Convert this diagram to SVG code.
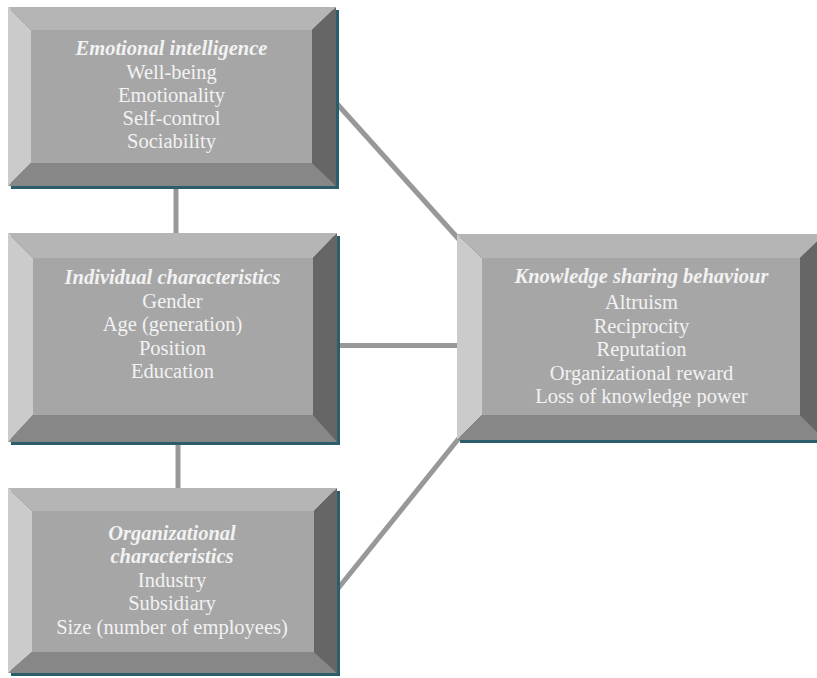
<svg xmlns="http://www.w3.org/2000/svg" width="817" height="678" viewBox="0 0 817 678">
<defs>
<style>
.sh{fill:#2b5d6a}
.tp{fill:#b5b5b5}
.lf{fill:#cbcbcb}
.rt{fill:#666666}
.bt{fill:#878787}
.fc{fill:#a6a6a6}
.con{stroke:#98989b;stroke-width:5;fill:none}
text{font-family:"Liberation Serif","Times New Roman",serif;font-size:20.5px;fill:#f2f2f2;text-anchor:middle}
.ttl{font-weight:bold;font-style:italic}
</style>
<clipPath id="clip4"><rect x="482" y="258" width="318" height="149"/></clipPath>
</defs>
<rect width="817" height="678" fill="#ffffff"/>
<g id="connectors">
<line class="con" x1="176" y1="180" x2="176" y2="240"/>
<line class="con" x1="178" y1="436" x2="178" y2="494"/>
<line class="con" x1="330" y1="96" x2="464" y2="245"/>
<line class="con" x1="330" y1="345.5" x2="464" y2="345.5"/>
<line class="con" x1="332" y1="596" x2="464" y2="432"/>
</g>
<g id="emotional">
<rect class="sh" x="11" y="10" width="328" height="179"/>
<polygon class="tp" points="8,7 336,7 312,30 31,30"/>
<polygon class="lf" points="8,7 31,30 31,163 8,186"/>
<polygon class="rt" points="336,7 336,186 312,163 312,30"/>
<polygon class="bt" points="8,186 336,186 312,163 31,163"/>
<rect class="fc" x="31" y="30" width="281" height="133"/>
<text x="171.5" y="55" class="ttl">Emotional intelligence</text>
<text x="171.5" y="79">Well-being</text>
<text x="171.5" y="102">Emotionality</text>
<text x="171.5" y="125">Self-control</text>
<text x="171.5" y="148">Sociability</text>
</g>
<g id="individual">
<rect class="sh" x="11" y="236" width="329" height="209"/>
<polygon class="tp" points="8,233 337,233 313,258 33,258"/>
<polygon class="lf" points="8,233 33,258 33,415 8,442"/>
<polygon class="rt" points="337,233 337,442 313,415 313,258"/>
<polygon class="bt" points="8,442 337,442 313,415 33,415"/>
<rect class="fc" x="33" y="258" width="280" height="157"/>
<text x="172.5" y="284" class="ttl">Individual characteristics</text>
<text x="172.5" y="308">Gender</text>
<text x="172.5" y="331">Age (generation)</text>
<text x="172.5" y="355">Position</text>
<text x="172.5" y="378">Education</text>
</g>
<g id="organizational">
<rect class="sh" x="11" y="491" width="329" height="185"/>
<polygon class="tp" points="8,488 337,488 314,511 32,511"/>
<polygon class="lf" points="8,488 32,511 32,652 8,673"/>
<polygon class="rt" points="337,488 337,673 314,652 314,511"/>
<polygon class="bt" points="8,673 337,673 314,652 32,652"/>
<rect class="fc" x="32" y="511" width="282" height="141"/>
<text x="172" y="540" class="ttl">Organizational</text>
<text x="172" y="563" class="ttl">characteristics</text>
<text x="172" y="587">Industry</text>
<text x="172" y="610">Subsidiary</text>
<text x="172" y="634">Size (number of employees)</text>
</g>
<g id="knowledge">
<rect class="sh" x="460" y="237" width="368" height="206"/>
<polygon class="tp" points="457,234 825,234 800,258 482,258"/>
<polygon class="lf" points="457,234 482,258 482,415 457,440"/>
<polygon class="rt" points="825,234 825,440 800,415 800,258"/>
<polygon class="bt" points="457,440 825,440 800,415 482,415"/>
<rect class="fc" x="482" y="258" width="318" height="157"/>
<g clip-path="url(#clip4)">
<text x="641.5" y="283" class="ttl">Knowledge sharing behaviour</text>
<text x="641.5" y="309">Altruism</text>
<text x="641.5" y="333">Reciprocity</text>
<text x="641.5" y="356">Reputation</text>
<text x="641.5" y="380">Organizational reward</text>
<text x="641.5" y="403">Loss of knowledge power</text>
</g>
</g>
</svg>
